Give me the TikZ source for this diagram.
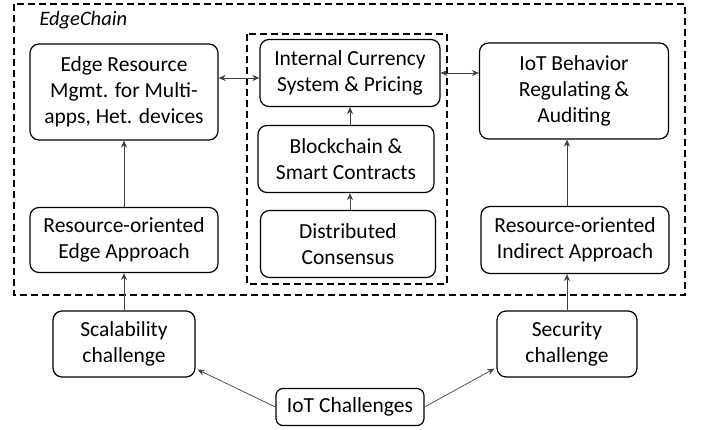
\documentclass[tikz,border=0pt]{standalone}
\usepackage{fontspec}
\setmainfont{Carlito}
\usetikzlibrary{arrows.meta}
\tikzset{
  blk/.style={draw, rounded corners=9pt, line width=1.2pt, align=center, inner sep=0pt},
  con/.style={-{Stealth[length=7pt,width=6pt]}, line width=0.7pt, draw=black!75},
  frame/.style={line width=1.4pt, dash pattern=on 7pt off 4pt},
}
\begin{document}
\begin{tikzpicture}[x=1pt,y=-1pt,font=\fontsize{21.5}{26}\selectfont]
  \useasboundingbox (0,0) rectangle (704,430);
  % frames
  \draw[frame] (14,4) rectangle (685,295);
  \draw[frame] (247,34) rectangle (447,284);
  \node[anchor=west, font=\fontsize{20.5}{22}\selectfont\itshape] (title) at (36,20) {EdgeChain};
  % left column
  \node[blk, minimum width=188pt, minimum height=96pt] (res) at (124,92) {Edge Resource\\Mgmt. for Multi-\\apps, Het. devices};
  \node[blk, minimum width=188pt, minimum height=65pt] (appr) at (124,240) {Resource-oriented\\Edge Approach};
  % middle column
  \node[blk, minimum width=180pt, minimum height=67pt] (cur) at (350,73) {Internal Currency\\System \& Pricing};
  \node[blk, minimum width=176pt, minimum height=67pt] (bc) at (346,159) {Blockchain \&\\Smart Contracts};
  \node[blk, minimum width=175pt, minimum height=67pt] (cons) at (348,244) {Distributed\\Consensus};
  % right column
  \node[blk, minimum width=189pt, minimum height=96pt] (beh) at (574,91) {IoT Behavior\\Regulating\,\&\\Auditing};
  \node[blk, minimum width=188pt, minimum height=67pt] (indir) at (575,240) {Resource-oriented\\Indirect Approach};
  % challenges
  \node[blk, minimum width=142pt, minimum height=66pt] (scal) at (124,344) {Scalability\\challenge};
  \node[blk, minimum width=140pt, minimum height=66pt] (sec) at (567,344) {Security\\challenge};
  \node[blk, rounded corners=7pt, minimum width=148pt, minimum height=37pt] (chal) at (350,407) {IoT Challenges};
  % connectors
  \draw[con] (chal.west) -- ([xshift=2pt,yshift=8pt]scal.south east);
  \draw[con] (chal.east) -- ([xshift=-2pt,yshift=9pt]sec.south west);
  \draw[con] (scal) -- (appr);
  \draw[con] (appr) -- (res);
  \draw[con] (sec.north) -- (indir.south -| sec.north);
  \draw[con] (indir.north -| sec.north) -- (beh.south -| sec.north);
  \draw[con] (cons.north -| cur) -- (bc.south -| cur);
  \draw[con] (bc.north -| cur) -- (cur.south);
  \draw[con, {Stealth[length=7pt,width=6pt]}-{Stealth[length=7pt,width=6pt]}] (res.east |- 0,78) -- (cur.west |- 0,78);
  \draw[con, {Stealth[length=7pt,width=6pt]}-{Stealth[length=7pt,width=6pt]}] (cur.east |- 0,73) -- (beh.west |- 0,73);
\end{tikzpicture}
\end{document}
